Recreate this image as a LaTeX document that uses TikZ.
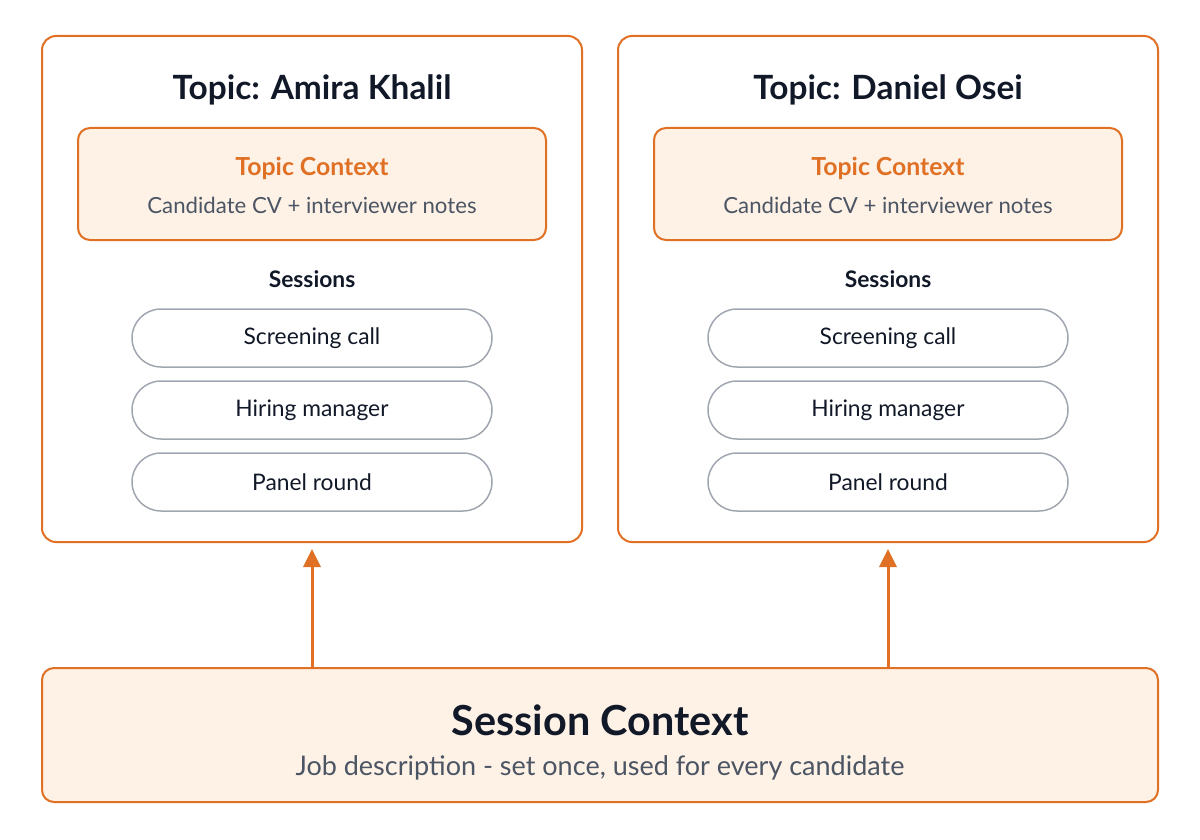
\documentclass[tikz,border=0pt]{standalone}
\usepackage{fontspec}
\setmainfont{Lato}
\usetikzlibrary{arrows.meta}
\definecolor{CtxOrange}{RGB}{224,112,36}
\definecolor{CtxFill}{RGB}{254,241,230}
\definecolor{PillGray}{RGB}{160,166,176}
\definecolor{TitleInk}{RGB}{17,24,39}
\definecolor{NoteInk}{RGB}{75,85,99}
\begin{document}
\begin{tikzpicture}[x=0.5pt,y=-0.5pt,
  topicbox/.style={draw=CtxOrange,line width=1pt,rounded corners=7pt,minimum width=270pt,minimum height=253pt},
  ctxbox/.style n args={2}{draw=CtxOrange,fill=CtxFill,line width=1pt,rounded corners=6pt,minimum width=#1,minimum height=#2},
  pill/.style={draw=PillGray,line width=0.75pt,rounded corners=14.5pt,minimum width=180pt,minimum height=29pt,text=TitleInk,font=\fontsize{11.4}{13}\selectfont},
  flow/.style={draw=CtxOrange,line width=1.5pt,-{Triangle[length=9pt,width=8.5pt]},shorten >=3pt}]
    \useasboundingbox (0,0) rectangle (1200,840);
    \node[ctxbox={558pt}{67pt}](sess) at(600,735) {};
    \node[font=\bfseries\fontsize{20.7}{24}\selectfont,text=TitleInk](sesst) at(600,720) {Session Context};
    \node[font=\fontsize{13.5}{16}\selectfont,text=NoteInk](sessd) at(600,768) {Job description - set once, used for every candidate};
    \foreach \cx/\nm/\id in %
    {312/Amira Khalil/a,888/Daniel Osei/d} {
       \node[topicbox](t\id) at(\cx,289) {};
       \node[font=\bfseries\fontsize{16.7}{20}\selectfont,text=TitleInk](tt\id) at(\cx,90) {Topic: \nm};
       \node[ctxbox={234pt}{56pt}](c\id) at(\cx,184) {};
       \node[font=\bfseries\fontsize{12.4}{14}\selectfont,text=CtxOrange](ct\id) at(\cx,168) {Topic Context};
       \node[font=\fontsize{11.1}{13}\selectfont,text=NoteInk](cn\id) at(\cx,205) {Candidate CV + interviewer notes};
       \node[font=\bfseries\fontsize{11.4}{13}\selectfont,text=TitleInk](sl\id) at(\cx,279) {Sessions};
       \node[pill](p1\id) at(\cx,338) {Screening call};
       \node[pill](p2\id) at(\cx,410) {Hiring manager};
       \node[pill](p3\id) at(\cx,482) {Panel round};
       \draw[flow] (sess.north -| t\id.south) -- (t\id.south);
    }
\end{tikzpicture}
\end{document}
